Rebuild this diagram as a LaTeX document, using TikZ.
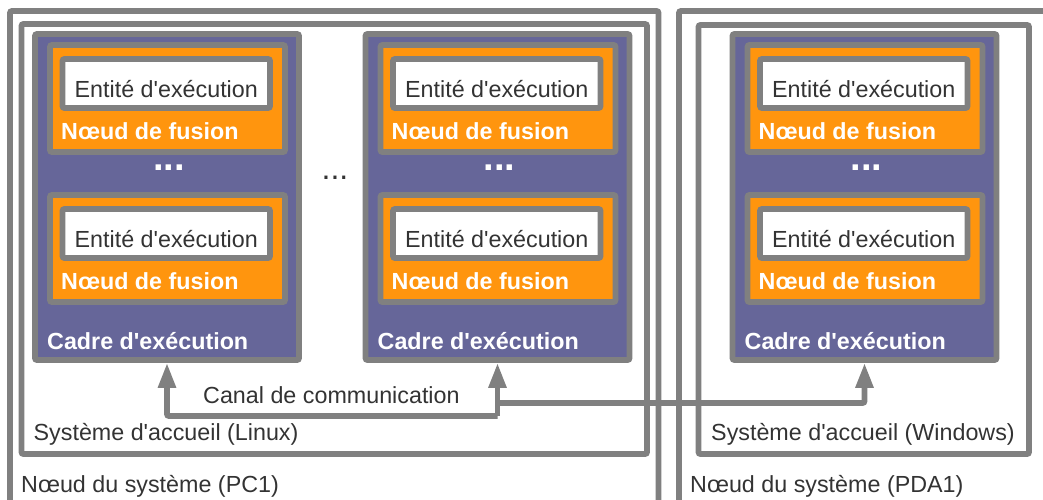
\documentclass[tikz,border=0pt]{standalone}
\usepackage{fontspec}
\setmainfont{Liberation Sans}
\newfontfamily\labfont{Liberation Sans}
\usetikzlibrary{fit,arrows.meta}
\definecolor{edgegray}{HTML}{808080}
\definecolor{cadrefill}{HTML}{666699}
\definecolor{fusionfill}{HTML}{FF950E}
\definecolor{txtgray}{HTML}{333333}
\tikzset{
  box/.style={draw=edgegray, line width=5.8pt, rounded corners=2pt, inner sep=0pt},
  sysbox/.style={box},
  cadrebox/.style={box, fill=cadrefill},
  fusionbox/.style={box, fill=fusionfill},
  entitebox/.style={box, fill=white},
  lbl/.style={font=\labfont\fontsize{23.3}{28}\selectfont, text=txtgray, inner sep=0pt, anchor=base west},
  blbl/.style={font=\labfont\fontsize{23.3}{28}\selectfont\bfseries, text=white, inner sep=0pt, anchor=base west},
  clbl/.style={font=\labfont\fontsize{23.3}{28}\selectfont, text=txtgray, inner sep=0pt, anchor=base},
  wdots/.style={font=\labfont\fontsize{38}{40}\selectfont\bfseries, text=white, inner sep=0pt, anchor=center},
  gdots/.style={font=\labfont\fontsize{32}{34}\selectfont, text=txtgray, inner sep=0pt, anchor=center},
  link/.style={draw=edgegray, line width=5.8pt, rounded corners=2pt, -{Triangle[length=25pt,width=17pt]}},
}
\begin{document}
\begin{tikzpicture}[x=1pt,y=-1pt]
\useasboundingbox (0,0) rectangle (1043,499);
\clip (0,0) rectangle (1043,499);
% system nodes and host systems
\node[sysbox, fit={(10,11) (658.5,540)}] (pc1) {};
\node[sysbox, fit={(21.5,24) (647,454)}] (linux) {};
\node[sysbox, fit={(679,11) (1080,540)}] (pda1) {};
\node[sysbox, fit={(698.5,25) (1029,454)}] (windows) {};
% execution frames
\foreach \i/\x in {1/35,2/365.5,3/732.5}{
  \node[cadrebox, fit={(\x,34) (\x+264,360)}] (c\i) {};
  \node[fusionbox, fit={(\x+15,45) (\x+250,152)}] (fa\i) {};
  \node[fusionbox, fit={(\x+15,195) (\x+250,302)}] (fb\i) {};
  \node[entitebox, fit={(\x+27.5,59) (\x+235,108)}] (ea\i) {};
  \node[entitebox, fit={(\x+27.5,209) (\x+235,258)}] (eb\i) {};
  \node[clbl] (tea\i) at (\x+131.25,97) {Entité d'exécution};
  \node[clbl] (teb\i) at (\x+131.25,247) {Entité d'exécution};
  \node[blbl] (tfa\i) at (\x+26,139.5) {Nœud de fusion};
  \node[blbl] (tfb\i) at (\x+26,289.5) {Nœud de fusion};
  \node[wdots] (dots\i) at (\x+134,168) {...};
  \node[blbl] (tc\i) at (\x+12,349) {Cadre d'exécution};
}
\node[gdots] (midots) at (335,178) {...};
% labels of systems
\node[lbl] (tlinux) at (33.5,440) {Système d'accueil (Linux)};
\node[lbl] (tpc1) at (21,492) {Nœud du système (PC1)};
\node[lbl] (twin) at (711,440) {Système d'accueil (Windows)};
\node[lbl] (tpda1) at (690,492) {Nœud du système (PDA1)};
% communication channel
\coordinate (j1) at (497.5,416);
\coordinate (j2) at (497.5,403);
\draw[link] (j1) -| (c1.south);
\draw[link] (j1) -- (c2.south);
\draw[link] (j2) -| (c3.south);
\node[lbl] (tcanal) at (203,403) {Canal de communication};
\end{tikzpicture}
\end{document}
